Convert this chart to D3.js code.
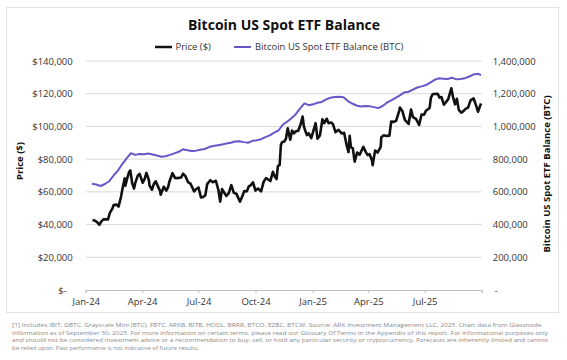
<!DOCTYPE html>
<html><head><meta charset="utf-8">
<script src="https://cdn.jsdelivr.net/npm/d3@7"></script>
<style>
html,body{margin:0;padding:0;background:#fff;}
svg{display:block;}
text{font-family:"Open Sans",sans-serif;}
</style></head>
<body>
<svg id="chart" width="567" height="360"></svg>
<script>
// ---- Data ----
const priceDates = ["2024-01-12","2024-01-15","2024-01-19","2024-01-23","2024-01-26","2024-01-30","2024-02-02","2024-02-06","2024-02-09","2024-02-13","2024-02-15","2024-02-20","2024-02-23","2024-02-27","2024-02-29","2024-03-04","2024-03-05","2024-03-08","2024-03-11","2024-03-13","2024-03-16","2024-03-19","2024-03-21","2024-03-25","2024-03-28","2024-04-02","2024-04-05","2024-04-08","2024-04-12","2024-04-13","2024-04-17","2024-04-20","2024-04-23","2024-04-26","2024-04-30","2024-05-01","2024-05-06","2024-05-10","2024-05-13","2024-05-15","2024-05-20","2024-05-24","2024-05-28","2024-06-03","2024-06-06","2024-06-10","2024-06-14","2024-06-18","2024-06-24","2024-06-27","2024-07-01","2024-07-05","2024-07-08","2024-07-12","2024-07-15","2024-07-20","2024-07-24","2024-07-29","2024-08-02","2024-08-05","2024-08-08","2024-08-12","2024-08-15","2024-08-19","2024-08-23","2024-08-27","2024-08-31","2024-09-06","2024-09-10","2024-09-13","2024-09-17","2024-09-20","2024-09-24","2024-09-27","2024-10-01","2024-10-05","2024-10-10","2024-10-14","2024-10-18","2024-10-22","2024-10-25","2024-10-29","2024-11-01","2024-11-04","2024-11-06","2024-11-09","2024-11-11","2024-11-13","2024-11-16","2024-11-19","2024-11-22","2024-11-26","2024-11-29","2024-12-02","2024-12-05","2024-12-09","2024-12-13","2024-12-16","2024-12-18","2024-12-20","2024-12-23","2024-12-26","2024-12-30","2025-01-03","2025-01-06","2025-01-09","2025-01-13","2025-01-17","2025-01-20","2025-01-24","2025-01-27","2025-01-31","2025-02-03","2025-02-07","2025-02-12","2025-02-17","2025-02-21","2025-02-25","2025-02-28","2025-03-02","2025-03-04","2025-03-07","2025-03-10","2025-03-14","2025-03-18","2025-03-24","2025-03-28","2025-03-31","2025-04-03","2025-04-07","2025-04-08","2025-04-12","2025-04-16","2025-04-21","2025-04-22","2025-04-26","2025-04-30","2025-05-05","2025-05-08","2025-05-12","2025-05-16","2025-05-21","2025-05-22","2025-05-26","2025-05-30","2025-06-05","2025-06-09","2025-06-12","2025-06-17","2025-06-22","2025-06-26","2025-06-30","2025-07-03","2025-07-09","2025-07-11","2025-07-14","2025-07-17","2025-07-22","2025-07-25","2025-07-28","2025-08-01","2025-08-03","2025-08-08","2025-08-13","2025-08-16","2025-08-19","2025-08-22","2025-08-25","2025-08-29","2025-09-01","2025-09-05","2025-09-09","2025-09-13","2025-09-18","2025-09-22","2025-09-25","2025-09-28","2025-09-30"];
const priceValues = [42800,42500,41600,39900,41800,43300,43200,43100,47100,49700,51900,52200,51000,57000,61200,68300,63800,68300,72100,73100,65300,62000,65500,69900,71000,65600,67800,71600,67100,63900,61300,64900,66400,63800,60600,58200,63100,60800,62900,66200,71400,68500,68400,68800,71100,69600,66000,65100,60300,61600,62700,56600,56700,57900,64700,67100,65900,66800,61400,54000,61700,59300,57500,59400,64100,59400,58900,54000,57600,60500,60300,63200,64300,65800,60800,62000,60300,66000,68400,67400,66600,72300,69400,67800,75600,76500,88700,90500,90600,92300,98900,91900,97500,95800,97000,97400,101500,106100,100200,97700,94700,95800,92800,98100,102000,92500,94500,104400,102000,104700,102000,102400,101400,96500,97900,95700,96100,88700,84300,94200,87200,86700,78500,84000,82700,87500,84300,82500,83100,79200,76300,85300,84000,87500,93400,94600,94200,94300,103000,102800,103500,109700,111600,109400,104000,101500,110300,105700,104600,100900,107300,107100,109600,111300,117500,119800,119800,119900,117600,118000,113300,114200,116700,123300,117400,113500,116900,110100,108400,109200,110700,111500,115900,117100,112700,109000,112200,114000];

const etfDates = ["2024-01-11","2024-01-18","2024-01-25","2024-02-01","2024-02-08","2024-02-15","2024-02-22","2024-02-29","2024-03-07","2024-03-14","2024-03-21","2024-03-28","2024-04-04","2024-04-11","2024-04-18","2024-04-25","2024-05-02","2024-05-09","2024-05-16","2024-05-23","2024-05-30","2024-06-06","2024-06-13","2024-06-20","2024-06-27","2024-07-04","2024-07-11","2024-07-18","2024-07-25","2024-08-01","2024-08-08","2024-08-15","2024-08-22","2024-08-29","2024-09-05","2024-09-12","2024-09-19","2024-09-26","2024-10-03","2024-10-10","2024-10-17","2024-10-24","2024-10-31","2024-11-07","2024-11-14","2024-11-21","2024-11-28","2024-12-05","2024-12-12","2024-12-19","2024-12-26","2025-01-02","2025-01-09","2025-01-16","2025-01-23","2025-01-30","2025-02-06","2025-02-13","2025-02-20","2025-02-27","2025-03-06","2025-03-13","2025-03-20","2025-03-27","2025-04-03","2025-04-10","2025-04-17","2025-04-24","2025-05-01","2025-05-08","2025-05-15","2025-05-22","2025-05-29","2025-06-05","2025-06-12","2025-06-19","2025-06-26","2025-07-03","2025-07-10","2025-07-17","2025-07-24","2025-07-31","2025-08-07","2025-08-14","2025-08-21","2025-08-28","2025-09-04","2025-09-11","2025-09-18","2025-09-25","2025-09-30"];
const etfValues = [650000,645000,636000,648000,665000,700000,730000,770000,805000,836000,826000,832000,830000,834000,828000,822000,815000,818000,826000,835000,845000,860000,855000,850000,852000,858000,862000,874000,880000,885000,890000,895000,900000,908000,910000,904000,900000,912000,915000,922000,935000,945000,962000,975000,1010000,1029000,1050000,1075000,1110000,1141000,1130000,1135000,1145000,1150000,1165000,1175000,1180000,1182000,1178000,1155000,1140000,1128000,1122000,1125000,1124000,1118000,1112000,1125000,1145000,1160000,1175000,1190000,1208000,1212000,1225000,1238000,1245000,1253000,1268000,1285000,1294000,1292000,1290000,1298000,1288000,1290000,1295000,1305000,1318000,1322000,1314000];

const xTickDates = ["2024-01-01","2024-04-01","2024-07-01","2024-10-01","2025-01-01","2025-04-01","2025-07-01","2025-10-01"];
const priceTicks = [0,20000,40000,60000,80000,100000,120000,140000];
const etfTicks = [0,200000,400000,600000,800000,1000000,1200000,1400000];
const titleText = "Bitcoin US Spot ETF Balance";
const seriesNames = ["Price ($)", "Bitcoin US Spot ETF Balance (BTC)"];
const leftAxisTitle = "Price ($)";
const rightAxisTitle = "Bitcoin US Spot ETF Balance (BTC)";
const footerLines = [
 "[1] Includes IBIT, GBTC, Grayscale Mini (BTC), FBTC, ARKB, BITB, HODL, BRRR, BTCO, EZBC, BTCW. Source: ARK Investment Management LLC, 2025. Chart data from Glassnode.",
 "Information as of September 30, 2025. For more information on certain terms, please read our Glossary Of Terms in the Appendix of this report. For informational purposes only",
 "and should not be considered investment advice or a recommendation to buy, sell, or hold any particular security or cryptocurrency. Forecasts are inherently limited and cannot",
 "be relied upon. Past performance is not indicative of future results."
];

// ---- Drawing ----
const parse = d3.utcParse("%Y-%m-%d");
const svg = d3.select("#chart");
const L = 85.7, R = 481.7, T = 61, B = 290;

svg.append("rect").attr("x",6.5).attr("y",7.5).attr("width",552).attr("height",305)
  .attr("fill","#fff").attr("stroke","#e2e2e2").attr("stroke-width",1);

const x = d3.scaleUtc().domain([parse(xTickDates[0]), parse(xTickDates[xTickDates.length-1])]).range([L,R]);
const yP = d3.scaleLinear().domain([0,140000]).range([B,T]);
const yB = d3.scaleLinear().domain([0,1400000]).range([B,T]);

// gridlines
svg.append("g").selectAll("line").data(priceTicks.filter(d=>d>0)).join("line")
  .attr("x1",L).attr("x2",R).attr("y1",d=>yP(d)).attr("y2",d=>yP(d))
  .attr("stroke","#d9d9d9").attr("stroke-width",1);

// x axis
const xAxis = d3.axisBottom(x).tickValues(xTickDates.map(parse)).tickSize(3)
  .tickFormat((d,i)=> i===xTickDates.length-1 ? "" : d3.utcFormat("%b-%y")(d));
const gx = svg.append("g").attr("transform",`translate(0,${B})`).call(xAxis);
gx.select(".domain").attr("stroke","#bfbfbf");
gx.selectAll(".tick line").attr("stroke","#bfbfbf");
gx.selectAll(".tick text").attr("dy","0.95em").attr("y",6).style("font-size","9.5px").attr("fill","#333");

// left axis
const fmt = d3.format(",");
const yAxisL = d3.axisLeft(yP).tickValues(priceTicks).tickSize(0).tickPadding(12)
  .tickFormat(d=> d===0 ? "$-" : "$"+fmt(d));
const gl = svg.append("g").attr("transform",`translate(${L},0)`).call(yAxisL);
gl.select(".domain").remove();
gl.selectAll(".tick text").style("font-size","9.5px").attr("fill","#333")
  .attr("x",d=> d===0 ? -19 : -13);

// right axis
const yAxisR = d3.axisRight(yB).tickValues(etfTicks).tickSize(0).tickPadding(11)
  .tickFormat(d=> d===0 ? "-" : fmt(d));
const gr = svg.append("g").attr("transform",`translate(${R},0)`).call(yAxisR);
gr.select(".domain").remove();
gr.selectAll(".tick text").style("font-size","9.5px").attr("fill","#333")
  .attr("x",d=> d===0 ? 13 : 11);

// lines
const priceData = priceDates.map((d,i)=>({date:parse(d), v:priceValues[i]}));
const etfData = etfDates.map((d,i)=>({date:parse(d), v:etfValues[i]}));
svg.append("path").datum(etfData)
  .attr("d", d3.line().x(d=>x(d.date)).y(d=>yB(d.v)))
  .attr("fill","none").attr("stroke","#6a56c8").attr("stroke-width",2).attr("stroke-linejoin","round");
svg.append("path").datum(priceData)
  .attr("d", d3.line().x(d=>x(d.date)).y(d=>yP(d.v)))
  .attr("fill","none").attr("stroke","#111").attr("stroke-width",2.6).attr("stroke-linejoin","round");

// title
svg.append("text").attr("x",284).attr("y",29.5).attr("text-anchor","middle")
  .style("font-size","14px").style("font-weight","700").attr("fill","#111").text(titleText);

// legend
const lg = svg.append("g");
lg.append("line").attr("x1",155).attr("x2",172).attr("y1",47).attr("y2",47).attr("stroke","#111").attr("stroke-width",2.5);
lg.append("text").attr("x",175.5).attr("y",50.3).style("font-size","9.5px").attr("fill","#333").text(seriesNames[0]);
lg.append("line").attr("x1",234).attr("x2",251).attr("y1",47).attr("y2",47).attr("stroke","#6a56c8").attr("stroke-width",2);
lg.append("text").attr("x",255).attr("y",50.3).style("font-size","9.5px").attr("fill","#333").text(seriesNames[1]);

// axis titles
svg.append("text").attr("transform","translate(23,161) rotate(-90)").attr("text-anchor","middle")
  .style("font-size","9.5px").style("font-weight","700").attr("fill","#111").text(leftAxisTitle);
svg.append("text").attr("transform","translate(550,174) rotate(-90)").attr("text-anchor","middle")
  .style("font-size","9.5px").style("font-weight","700").attr("fill","#111").text(rightAxisTitle);

// footer
const fy = [326.7, 334.7, 342.3, 349.8];
footerLines.forEach((t,i)=>{
  const el = svg.append("text").attr("x",12).attr("y",fy[i]).style("font-size","6px").attr("fill","#8a8a8a").text(t);
  if(i<3) el.attr("textLength",[531,536,536][i]).attr("lengthAdjust","spacingAndGlyphs");
});
</script>
</body></html>
